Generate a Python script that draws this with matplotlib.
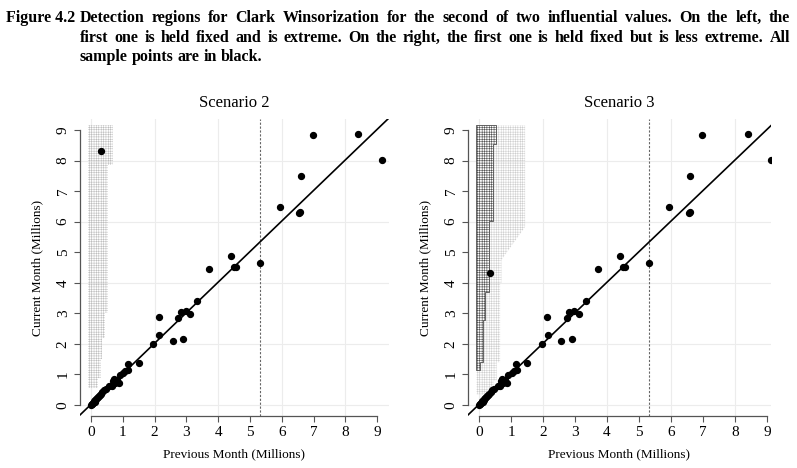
import numpy as np
import matplotlib
matplotlib.use("Agg")
import matplotlib.pyplot as plt
from matplotlib.patches import Polygon

plt.rcParams['font.family'] = ['Liberation Serif', 'DejaVu Serif']
plt.rcParams['hatch.linewidth'] = 0.35

# Sample points (millions), shared by both scenarios
prev_month = [0.00, 0.02, 0.04, 0.06, 0.08, 0.10, 0.12, 0.14, 0.17, 0.20, 0.22, 0.25,
              0.28, 0.32, 0.36, 0.41, 0.47, 0.58, 0.65, 0.68, 0.73, 0.75, 0.81, 0.87,
              0.91, 1.02, 1.08, 1.15, 1.18, 1.50, 1.96, 2.13, 2.15, 2.57, 2.75, 2.82,
              2.90, 2.98, 3.13, 3.33, 3.71, 4.40, 4.49, 4.56, 5.31, 5.95, 6.55, 6.58,
              6.60, 6.97, 8.41, 9.14]
curr_month = [0.00, 0.02, 0.04, 0.07, 0.09, 0.12, 0.11, 0.16, 0.19, 0.23, 0.27, 0.29,
              0.33, 0.36, 0.42, 0.48, 0.52, 0.62, 0.62, 0.79, 0.84, 0.71, 0.82, 0.71,
              0.97, 1.06, 1.10, 1.33, 1.15, 1.36, 1.99, 2.89, 2.29, 2.10, 2.85, 3.04,
              2.17, 3.09, 2.97, 3.40, 4.45, 4.88, 4.53, 4.52, 4.64, 6.49, 6.27, 6.33,
              7.49, 8.83, 8.87, 8.03]

# the first influential value, held fixed
fixed_s2 = (0.30, 8.30)
fixed_s3 = (0.34, 4.31)

# fitted line and cutoff
intercept, slope = 0.02, 1.0
cutoff = 5.31

# detection region outlines
s2_x = [-0.08, 0.22, 0.22, 0.30, 0.30, 0.36, 0.36, 0.45, 0.45, 0.55, 0.55, 0.68, 0.68, -0.08]
s2_y = [0.55, 0.55, 0.90, 0.90, 1.50, 1.50, 2.20, 2.20, 3.00, 3.00, 7.85, 7.85, 9.15, 9.15]

s3_light_x = [-0.08, 0.45, 0.45, 0.55, 0.55, 0.66, 0.66, 0.70, 0.70, 1.44, 1.44, -0.08]
s3_light_y = [0.35, 0.35, 0.80, 0.80, 1.40, 1.40, 4.00, 4.00, 4.75, 5.83, 9.15, 9.15]

s3_dark_x = [-0.08, 0.02, 0.02, 0.13, 0.13, 0.20, 0.20, 0.32, 0.32, 0.43, 0.43, 0.52, 0.52, -0.08]
s3_dark_y = [1.15, 1.15, 1.41, 1.41, 2.78, 2.78, 3.70, 3.70, 6.02, 6.02, 8.54, 8.54, 9.15, 9.15]


def setup(ax, title):
    ax.set_xlim(-0.36, 9.36)
    ax.set_ylim(-0.36, 9.36)
    for v in [0, 2, 4, 6, 8]:
        ax.axvline(v, color='#ececec', lw=0.8, zorder=0)
        ax.axhline(v, color='#ececec', lw=0.8, zorder=0)
    ax.spines['top'].set_visible(False)
    ax.spines['right'].set_visible(False)
    ax.spines['left'].set_bounds(0, 9)
    ax.spines['bottom'].set_bounds(0, 9)
    for s in ['left', 'bottom']:
        ax.spines[s].set_color('#555555')
        ax.spines[s].set_linewidth(0.9)
    ax.set_xticks(range(10))
    ax.set_yticks(range(10))
    ax.tick_params(axis='both', length=4, width=0.8, color='#555555', labelsize=11, pad=3)
    for lab in ax.get_yticklabels():
        lab.set_rotation(90)
        lab.set_va('center')
    ax.set_title(title, fontsize=12, pad=9)
    ax.set_xlabel('Previous Month (Millions)', fontsize=9.5, labelpad=7)
    ax.set_ylabel('Current Month (Millions)', fontsize=9.5, labelpad=10)
    ax.axvline(cutoff, color='#666666', lw=0.8, ls=(0, (2, 1.5)), zorder=1)
    ax.axline((0, intercept), slope=slope, color='black', lw=1.2, zorder=3)
    ax.scatter(prev_month, curr_month, s=18, color='black', zorder=4)


fig = plt.figure(figsize=(7.97, 4.68), dpi=100)

ax1 = fig.add_axes([0.0998, 0.1111, 0.3877, 0.6346])
setup(ax1, 'Scenario 2')
ax1.add_patch(Polygon(np.column_stack([s2_x, s2_y]), closed=True, facecolor='none',
                      edgecolor='#bdbdbd', hatch='+++++++', lw=0, zorder=1))
ax1.scatter([fixed_s2[0]], [fixed_s2[1]], s=18, color='black', zorder=4)

ax2 = fig.add_axes([0.5866, 0.1111, 0.3808, 0.6346])
setup(ax2, 'Scenario 3')
ax2.set_xlim(-0.36, 9.125)
ax2.add_patch(Polygon(np.column_stack([s3_light_x, s3_light_y]), closed=True,
                      facecolor='none', edgecolor='#cdcdcd', hatch='+++++++', lw=0, zorder=1))
ax2.add_patch(Polygon(np.column_stack([s3_dark_x, s3_dark_y]), closed=True, facecolor='none',
                      edgecolor='#505050', hatch='+++++++', lw=0.6, zorder=2))
ax2.scatter([fixed_s3[0]], [fixed_s3[1]], s=18, color='black', zorder=4)

# caption, justified like the book
cap_size = 11.5
fig.text(6 / 797, 1 - 22 / 468, 'Figure 4.2', fontsize=cap_size, fontweight='bold', va='baseline')
lines = ['Detection regions for Clark Winsorization for the second of two influential values. On the left, the',
         'first one is held fixed and is extreme. On the right, the first one is held fixed but is less extreme. All',
         'sample points are in black.']
renderer = fig.canvas.get_renderer()
x0, x1 = 80, 790
for i, t in enumerate(lines):
    y = 1 - (22 + i * 19.5) / 468
    words = t.split(' ')
    arts = [fig.text(0, y, w, fontsize=cap_size, fontweight='bold', va='baseline') for w in words]
    widths = [a.get_window_extent(renderer).width for a in arts]
    if i < len(lines) - 1:
        gap = (x1 - x0 - sum(widths)) / (len(words) - 1)
    else:
        gap = 0.25 * cap_size * 100 / 72
    x = x0
    for a, w in zip(arts, widths):
        a.set_x(x / 797)
        x += w + gap

fig.savefig('out.png', dpi=100)
